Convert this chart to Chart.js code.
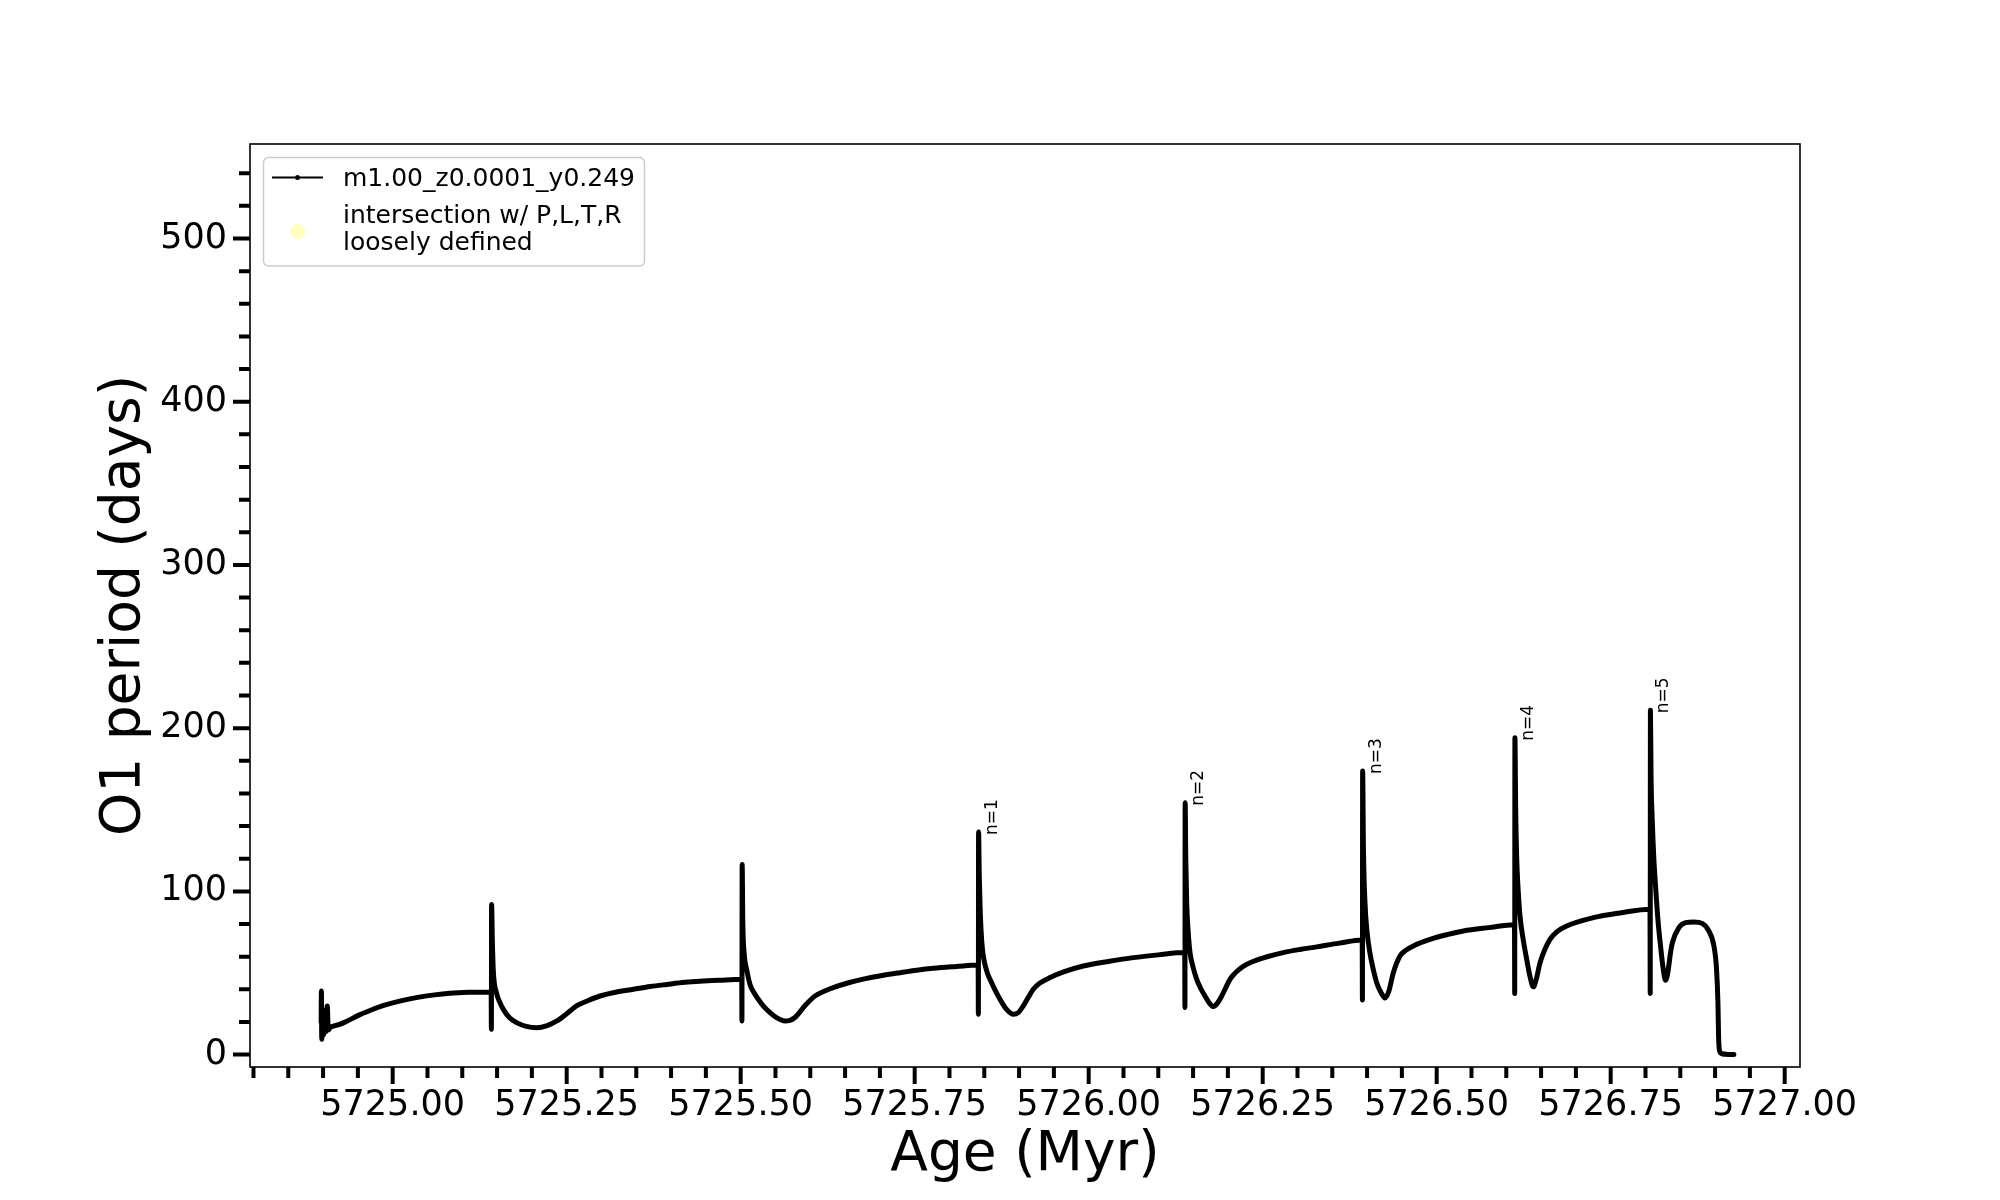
<!DOCTYPE html>
<html>
<head>
<meta charset="utf-8">
<script src="https://cdn.jsdelivr.net/npm/chart.js@4.4.0/dist/chart.umd.min.js"></script>
<style>
  html, body { margin: 0; padding: 0; background: #fff; }
  #wrap { width: 2000px; height: 1200px; }
</style>
</head>
<body>
<div id="wrap"><canvas id="periodChart" width="2000" height="1200"></canvas></div>
<script>
// track: age (Myr) vs O1 period (days)
const ages = [
  5724.8972, 5724.8976, 5724.8981, 5724.8990, 5724.9005, 5724.9020, 5724.9040, 5724.9060, 5724.9075,
  5724.910, 5724.920, 5724.930, 5724.953, 5724.970, 5724.986, 5725.010, 5725.034, 5725.060, 5725.082,
  5725.110, 5725.1415,
  5725.1418, 5725.1421, 5725.1432, 5725.1445, 5725.149, 5725.154, 5725.159, 5725.168, 5725.178,
  5725.192, 5725.207, 5725.222, 5725.236, 5725.250, 5725.264, 5725.280, 5725.298, 5725.320, 5725.346,
  5725.370, 5725.394, 5725.420, 5725.4415, 5725.470, 5725.5015,
  5725.5018, 5725.5021, 5725.5031, 5725.5050, 5725.5086, 5725.5134, 5725.519, 5725.5253, 5725.533,
  5725.5421, 5725.552, 5725.5636, 5725.571, 5725.578, 5725.584, 5725.590, 5725.598, 5725.6068,
  5725.620, 5725.633, 5725.655, 5725.681, 5725.705, 5725.729, 5725.753, 5725.777, 5725.810, 5725.8412,
  5725.8415, 5725.8418, 5725.8428, 5725.8440, 5725.8455, 5725.8475, 5725.850, 5725.854, 5725.8582,
  5725.865, 5725.8726, 5725.882, 5725.8917, 5725.8988, 5725.906, 5725.913, 5725.9204, 5725.930,
  5725.9444, 5725.965, 5725.9922, 5726.030, 5726.064, 5726.100, 5726.1380,
  5726.1383, 5726.1386, 5726.1395, 5726.1408, 5726.143, 5726.1456, 5726.150, 5726.1552, 5726.161,
  5726.1671, 5726.173, 5726.179, 5726.185, 5726.1911, 5726.197, 5726.203, 5726.209, 5726.215,
  5726.222, 5726.2318, 5726.255, 5726.2796, 5726.305, 5726.3276, 5726.360, 5726.3930,
  5726.3933, 5726.3936, 5726.3948, 5726.397, 5726.400, 5726.404, 5726.409, 5726.4138, 5726.420,
  5726.4257, 5726.431, 5726.4377, 5726.4473, 5726.456, 5726.4664, 5726.4904, 5726.515, 5726.5382,
  5726.575, 5726.6118,
  5726.6121, 5726.6124, 5726.6135, 5726.615, 5726.6165, 5726.6197, 5726.6245, 5726.6293, 5726.634,
  5726.6389, 5726.643, 5726.6485, 5726.655, 5726.6628, 5726.673, 5726.6868, 5726.7251, 5726.7635,
  5726.8065,
  5726.8068, 5726.8071, 5726.808, 5726.8097, 5726.812, 5726.8145, 5726.818, 5726.8216, 5726.825,
  5726.8288, 5726.832, 5726.836, 5726.8387, 5726.848, 5726.8576, 5726.8696, 5726.8815, 5726.8911,
  5726.8983, 5726.9021, 5726.9041, 5726.9050, 5726.9064, 5726.910, 5726.918, 5726.927
];
const periods = [
  20, 39, 9.4, 22, 12, 27, 14, 29.8, 15,
  16.5, 18, 19.6, 24.5, 27.5, 30, 32.8, 34.9, 36.6, 37.6,
  38.2, 38.4,
  15.5, 92, 70, 52, 38, 32, 27.7, 22.5, 19.6,
  17.3, 16.5, 17.8, 20.6, 25, 29.8, 33, 35.9, 38.2, 40,
  41.7, 43, 44.3, 45, 45.6, 46.1,
  20.6, 116.5, 80, 62, 52.2, 43, 38, 33.9, 29.5,
  25.7, 22.5, 20.6, 21, 22.7, 25.5, 28.8, 32.5, 35.9,
  38.8, 41, 44, 46.7, 48.6, 50.2, 51.7, 52.9, 54, 54.9,
  24.7, 136.4, 110, 90, 75, 64, 57, 50.5, 46.1,
  40, 33.9, 27.7, 24.7, 25.7, 29.8, 34.9, 40, 43.8,
  47.2, 50.8, 54.3, 57.2, 59.4, 61.1, 62.5,
  28.8, 154.3, 120, 93, 75, 62.5, 53.5, 46.1, 40.5,
  35.9, 31.8, 29.4, 31.5, 35.9, 41, 46.1, 49.3, 51.8,
  54, 56.3, 59.8, 62.5, 64.5, 66, 68.3, 70.2,
  33.5, 173.7, 125, 93, 75, 62.5, 52, 44, 38,
  34.7, 38.5, 50.2, 60.4, 64, 66.6, 70.6, 73.5, 75.7,
  77.8, 79.6,
  37.5, 194.1, 150, 120, 105, 85, 70, 58.4, 48,
  41.5, 46, 56.3, 64, 70.6, 75.3, 78.8, 83.9, 86.8,
  89,
  37.5, 211, 170, 144, 120, 103, 82, 66.6, 54,
  45.5, 50, 62.5, 68.6, 77.8, 80.8, 81.3, 80.4, 75.7,
  66.6, 52.2, 31.8, 11.4, 2.3, 0.5, 0.1, 0
];

// intersection points (none visible in the reference)
const crossAges = [];
const crossPeriods = [];

// flash labels next to the spikes
const flashLabels = ['n=1', 'n=2', 'n=3', 'n=4', 'n=5'];
const flashAges = [5725.8418, 5726.1386, 5726.3936, 5726.6124, 5726.8071];
const flashPeriods = [136.4, 154.3, 173.7, 194.1, 211];

// axis ticks
const xMajorTicks = [5725.00, 5725.25, 5725.50, 5725.75, 5726.00, 5726.25, 5726.50, 5726.75, 5727.00];
const yMajorTicks = [0, 100, 200, 300, 400, 500];
const xMinorStep = 0.05;
const yMinorStep = 20;

const FONT = "'DejaVu Sans', 'Liberation Sans', sans-serif";

const trackPoints = ages.map((a, i) => ({x: a, y: periods[i]}));
const crossPoints = crossAges.map((a, i) => ({x: a, y: crossPeriods[i]}));

// frame, minor+major tick marks, legend box and n= labels
const decorPlugin = {
  id: 'decor',
  afterDraw(chart) {
    const {ctx, chartArea: a, scales: {x, y}} = chart;
    ctx.save();

    // tick marks (outward)
    ctx.strokeStyle = '#000';
    ctx.lineWidth = 4;
    ctx.beginPath();
    const xStart = Math.ceil(x.min / xMinorStep - 1e-6) * xMinorStep;
    for (let k = 0; xStart + k * xMinorStep <= x.max; k++) {
      const v = xStart + k * xMinorStep;
      const isMajor = xMajorTicks.some(m => Math.abs(m - v) < 1e-6);
      const px = x.getPixelForValue(v);
      ctx.moveTo(px, a.bottom);
      ctx.lineTo(px, a.bottom + (isMajor ? 17 : 11));
    }
    const yStart = Math.ceil(y.min / yMinorStep) * yMinorStep;
    for (let v = yStart; v <= y.max; v += yMinorStep) {
      const isMajor = yMajorTicks.includes(v);
      const py = y.getPixelForValue(v);
      ctx.moveTo(a.left, py);
      ctx.lineTo(a.left - (isMajor ? 17 : 11), py);
    }
    ctx.stroke();

    // plot frame
    ctx.lineWidth = 1.6;
    ctx.strokeRect(a.left, a.top, a.right - a.left, a.bottom - a.top);

    // n= labels, rotated
    ctx.fillStyle = '#000';
    ctx.font = '17px ' + FONT;
    ctx.textAlign = 'left';
    ctx.textBaseline = 'alphabetic';
    flashLabels.forEach((t, i) => {
      const px = x.getPixelForValue(flashAges[i]);
      const py = y.getPixelForValue(flashPeriods[i]);
      ctx.save();
      ctx.translate(px + 18, py + 3);
      ctx.rotate(-Math.PI / 2);
      ctx.fillText(t, 0, 0);
      ctx.restore();
    });

    // legend
    const lx = 263.5, ly = 157.5, lw = 381, lh = 108.5;
    ctx.beginPath();
    ctx.roundRect(lx, ly, lw, lh, 5);
    ctx.fillStyle = 'rgba(255,255,255,0.8)';
    ctx.fill();
    ctx.strokeStyle = '#cccccc';
    ctx.lineWidth = 1.5;
    ctx.stroke();

    const ds = chart.data.datasets;
    ctx.strokeStyle = ds[0].borderColor;
    ctx.lineWidth = 2;
    ctx.beginPath();
    ctx.moveTo(272, 177.5);
    ctx.lineTo(323, 177.5);
    ctx.stroke();
    ctx.beginPath();
    ctx.arc(297.5, 177.5, 2.5, 0, Math.PI * 2);
    ctx.fillStyle = '#000';
    ctx.fill();

    ctx.beginPath();
    ctx.arc(298, 231.5, 7.5, 0, Math.PI * 2);
    ctx.fillStyle = ds[1].backgroundColor;
    ctx.fill();

    ctx.fillStyle = '#000';
    ctx.font = '25px ' + FONT;
    ctx.fillText(ds[0].label, 343, 186);
    ds[1].label.split('\n').forEach((line, i) => ctx.fillText(line, 343, 222.5 + i * 27));

    ctx.restore();
  }
};

new Chart(document.getElementById('periodChart').getContext('2d'), {
  type: 'line',
  data: {
    datasets: [
      {
        label: 'm1.00_z0.0001_y0.249',
        data: trackPoints,
        borderColor: '#000000',
        backgroundColor: '#000000',
        borderWidth: 5,
        pointRadius: 0,
        cubicInterpolationMode: 'monotone',
        borderJoinStyle: 'round',
        borderCapStyle: 'round'
      },
      {
        label: 'intersection w/ P,L,T,R\nloosely defined',
        data: crossPoints,
        showLine: false,
        pointRadius: 7.5,
        backgroundColor: 'rgba(255,255,0,0.25)',
        borderColor: 'rgba(255,255,0,0.25)'
      }
    ]
  },
  options: {
    responsive: false,
    animation: false,
    devicePixelRatio: 1,
    layout: { padding: { top: 144, right: 200, bottom: 0, left: 0 } },
    plugins: {
      legend: { display: false },
      tooltip: { enabled: false }
    },
    scales: {
      x: {
        type: 'linear',
        min: 5724.795,
        max: 5727.022,
        afterBuildTicks: s => { s.ticks = xMajorTicks.map(v => ({value: v})); },
        afterFit: s => { s.height = 133; },
        grid: { display: false, drawTicks: false, tickLength: 0 },
        border: { display: false },
        ticks: {
          padding: 18,
          maxRotation: 0,
          autoSkip: false,
          color: '#000',
          font: { family: FONT, size: 35 },
          callback: v => Number(v).toFixed(2)
        },
        title: {
          display: true,
          text: 'Age (Myr)',
          color: '#000',
          font: { family: FONT, size: 55 },
          padding: { top: 0, bottom: 11 }
        }
      },
      y: {
        min: -7.6,
        max: 557.9,
        afterBuildTicks: s => { s.ticks = yMajorTicks.map(v => ({value: v})); },
        afterFit: s => { s.width = 250; },
        grid: { display: false, drawTicks: false, tickLength: 0 },
        border: { display: false },
        ticks: {
          padding: 23,
          autoSkip: false,
          color: '#000',
          font: { family: FONT, size: 35 },
          callback: v => String(v)
        },
        title: {
          display: true,
          text: 'O1 period (days)',
          color: '#000',
          font: { family: FONT, size: 55 },
          padding: { top: 92, bottom: 0 }
        }
      }
    }
  },
  plugins: [decorPlugin]
});
</script>
</body>
</html>
